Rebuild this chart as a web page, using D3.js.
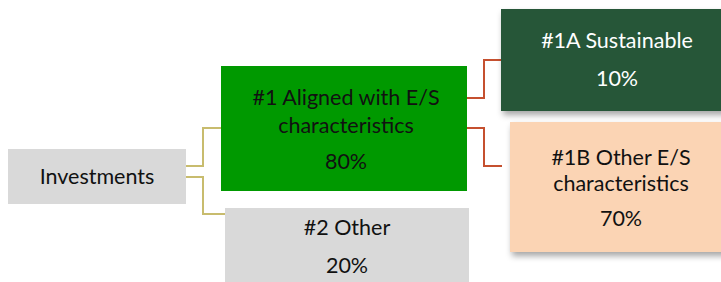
<!DOCTYPE html>
<html>
  <head>
    <meta http-equiv="Content-Type" content="text/html;charset=utf-8">
    <script src="https://d3js.org/d3.v7.min.js"></script>
    <style>
      body { margin: 0; background: #fff; }
      text { font-family: Lato, "Open Sans", sans-serif; }
    </style>
  </head>
  <body>
    <svg id="chart" width="721" height="282"></svg>
    <script type="text/javascript">

// data
var ids     = ["inv", "n1", "n2", "n1a", "n1b"];
var parents = ["", "inv", "inv", "n1", "n1"];
var labels  = [["Investments"], ["#1 Aligned with E/S", "characteristics"], ["#2 Other"],
               ["#1A Sustainable"], ["#1B Other E/S", "characteristics"]];
var shares  = [null, 80, 20, 10, 70];

// look of each box: [x, y, w, h]
var boxes = {
  inv: [8, 149, 178, 55],
  n1:  [221, 66, 246, 125],
  n2:  [225, 208, 244, 80],
  n1a: [501, 9, 230, 102],
  n1b: [510, 122, 220, 130]
};
var fills  = { inv: "#d9d9d9", n1: "#009900", n2: "#d9d9d9", n1a: "#265738", n1b: "#fbd4b4" };
var inks   = { inv: "#111", n1: "#111", n2: "#111", n1a: "#fff", n1b: "#111" };
var shadow = { n1a: true, n1b: true };
// where connector lines start/end (y), and the x of the elbow
var links = [
  { from: "inv", to: "n1",  y0: 166, y1: 128, xm: 203, x1: 221, color: "#c8bc6e" },
  { from: "inv", to: "n2",  y0: 177, y1: 214, xm: 203, x1: 225, color: "#c8bc6e" },
  { from: "n1",  to: "n1a", y0: 98,  y1: 60,  xm: 484, x1: 501, color: "#c5502f" },
  { from: "n1",  to: "n1b", y0: 128, y1: 166, xm: 484, x1: 502, color: "#c5502f" }
];

var table = ids.map(function(d, i) {
  return { id: d, parentId: parents[i] || null, lines: labels[i], share: shares[i] };
});
var root = d3.stratify()(table);

var svg = d3.select("#chart");
var defs = svg.append("defs");
defs.append("filter").attr("id", "shadow")
    .attr("x", "-10%").attr("y", "-10%").attr("width", "130%").attr("height", "140%")
  .append("feDropShadow")
    .attr("dx", 2).attr("dy", 4).attr("stdDeviation", 3)
    .attr("flood-color", "#000").attr("flood-opacity", 0.35);

// connectors
var line = d3.line();
svg.selectAll("path.link").data(links).enter().append("path")
    .attr("class", "link")
    .attr("fill", "none")
    .attr("stroke", function(d) { return d.color; })
    .attr("stroke-width", 2)
    .attr("d", function(d) {
      var b = boxes[d.from];
      return line([[b[0] + b[2], d.y0], [d.xm, d.y0], [d.xm, d.y1], [d.x1, d.y1]]);
    });

// boxes
var node = svg.selectAll("g.node").data(root.descendants()).enter().append("g")
    .attr("class", "node")
    .attr("transform", function(d) { var b = boxes[d.id]; return "translate(" + b[0] + "," + b[1] + ")"; });

node.append("rect")
    .attr("width", function(d) { return boxes[d.id][2]; })
    .attr("height", function(d) { return boxes[d.id][3]; })
    .attr("fill", function(d) { return fills[d.id]; })
    .attr("filter", function(d) { return shadow[d.id] ? "url(#shadow)" : null; });

// text lines: label rows then the share
var textPos = {
  inv: { cx: 89, ys: [27] },
  n1:  { cx: 125, ys: [31, 59, 95] },
  n2:  { cx: 122, ys: [19, 57] },
  n1a: { cx: 116, ys: [31, 69] },
  n1b: { cx: 111, ys: [35, 61, 96] }
};
node.each(function(d) {
  var g = d3.select(this), tp = textPos[d.id];
  var rows = d.data.lines.slice();
  if (d.data.share != null) rows.push(d.data.share + "%");
  g.selectAll("text").data(rows).enter().append("text")
    .attr("x", tp.cx)
    .attr("y", function(r, i) { return tp.ys[i]; })
    .attr("dy", "0.35em")
    .attr("text-anchor", "middle")
    .attr("font-size", 21.5)
    .attr("fill", inks[d.id])
    .text(function(r) { return r; });
});

    </script>
  </body>
</html>
